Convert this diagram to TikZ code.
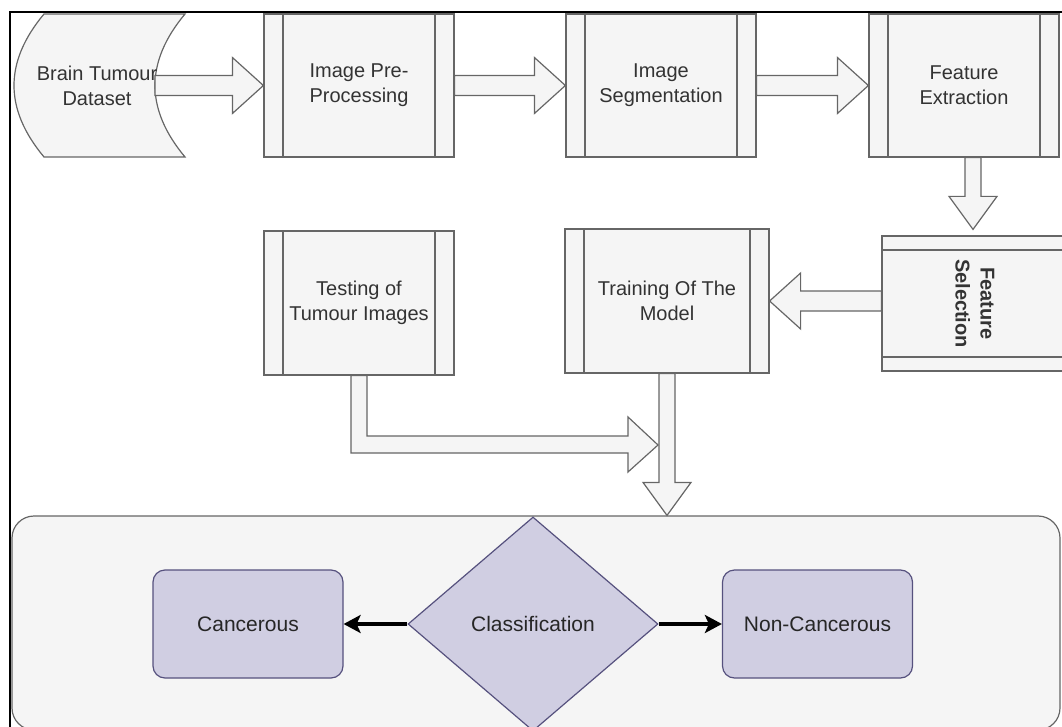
\documentclass[tikz,border=0pt]{standalone}
\usepackage{fontspec}
\setmainfont{Liberation Sans}
\usepackage{tikz}
\usetikzlibrary{calc,shapes.geometric,arrows.meta}

\definecolor{boxgrey}{HTML}{F5F5F5}
\definecolor{linegrey}{HTML}{666666}
\definecolor{textgrey}{HTML}{333333}
\definecolor{purplefill}{HTML}{D0CEE2}
\definecolor{purpleline}{HTML}{56517E}

\tikzset{
  procbox/.style={draw=linegrey, fill=boxgrey, text=textgrey, line width=1.2pt,
    minimum width=190pt, minimum height=143pt, inner sep=0pt, align=center,
    font=\fontsize{20}{25}\selectfont,
    path picture={\draw[linegrey, line width=1.2pt]
      ([xshift=19pt]path picture bounding box.north west) -- ([xshift=19pt]path picture bounding box.south west)
      ([xshift=-19pt]path picture bounding box.north east) -- ([xshift=-19pt]path picture bounding box.south east);}},
  selbox/.style={draw=linegrey, fill=boxgrey, text=textgrey, line width=1.2pt,
    minimum width=182pt, minimum height=135pt, inner sep=0pt, align=center,
    font=\fontsize{20}{25}\selectfont\bfseries,
    path picture={\draw[linegrey, line width=1.2pt]
      ([yshift=-14pt]path picture bounding box.north west) -- ([yshift=-14pt]path picture bounding box.north east)
      ([yshift=14pt]path picture bounding box.south west) -- ([yshift=14pt]path picture bounding box.south east);}},
  classbox/.style={draw=purpleline, fill=purplefill, text=black!85, line width=1.2pt,
    rounded corners=12pt, minimum width=190pt, minimum height=108pt,
    font=\fontsize{21}{25}\selectfont},
  flexarrow/.style={draw=linegrey, fill=boxgrey, line width=1.2pt},
  thickarrow/.style={draw=black, line width=3.5pt, -{Stealth[length=17pt,width=18pt,inset=4pt]}},
}

% hollow block arrows, start point #1, tip #2
\newcommand{\flexh}[2]{%
  \draw[flexarrow] let \p1=(#1), \p2=(#2), \n1={sign(\x2-\x1)} in
    (\x1,\y2+10pt) -- (\x2-\n1*31pt,\y2+10pt) -- (\x2-\n1*31pt,\y2+28pt) -- (\x2,\y2)
    -- (\x2-\n1*31pt,\y2-28pt) -- (\x2-\n1*31pt,\y2-10pt) -- (\x1,\y2-10pt) -- cycle;}
\newcommand{\flexv}[2]{%
  \draw[flexarrow] let \p1=(#1), \p2=(#2), \n1={sign(\y2-\y1)} in
    (\x2-8pt,\y1) -- (\x2-8pt,\y2-\n1*33pt) -- (\x2-24pt,\y2-\n1*33pt) -- (\x2,\y2)
    -- (\x2+24pt,\y2-\n1*33pt) -- (\x2+8pt,\y2-\n1*33pt) -- (\x2+8pt,\y1) -- cycle;}

\begin{document}
\begin{tikzpicture}[x=1pt,y=-1pt,line join=miter]
  \useasboundingbox (0,0) rectangle (1062,727);
  \clip (0,0) rectangle (1062,727);

  % bottom panel
  \node[draw=linegrey, fill=boxgrey, line width=1.2pt, rounded corners=22pt,
        minimum width=1048pt, minimum height=214pt] (panel) at (536,623) {};

  % dataset (stored data shape)
  \draw[flexarrow] (44,14) -- (185,14) .. controls (145,62) and (145,109) .. (185,157)
    -- (44,157) .. controls (4,109) and (4,62) .. (44,14) -- cycle;
  \coordinate (dataout) at (155,85.5);

  % first row
  \node[procbox] (pre) at (359,85.5) {Image Pre-\\Processing};
  \node[procbox] (seg) at (661,85.5) {Image\\Segmentation};
  \node[procbox] (ext) at (964,85.5) {Feature\\Extraction};

  % second row
  \node[selbox] (sel) at (973,303.5) {\rotatebox{-90}{\begin{tabular}{@{}c@{}}Feature\\Selection\end{tabular}}};
  \node[procbox, minimum width=204pt, minimum height=144pt] (train) at (667,301) {Training Of The\\Model};
  \node[procbox, minimum height=144pt] (test) at (359,303) {Testing of\\Tumour Images};

  % block arrows
  \flexh{dataout}{pre.west}
  \node[text=textgrey, align=center, font=\fontsize{20}{25}\selectfont] (data) at (97,85.5) {Brain Tumour\\Dataset};
  \flexh{pre.east}{seg.west}
  \flexh{seg.east}{ext.west}
  \flexv{ext.south -| sel.north}{[yshift=6pt]sel.north}
  \flexh{sel.west}{train.east}
  \flexv{train.south}{train.south |- panel.north}

  % testing -> join
  \coordinate (join) at (658,445);
  \draw[flexarrow] ([xshift=-8pt]test.south) |- ([xshift=-30pt,yshift=-8pt]join)
    -- ++(0,-19pt) -- (join) -- ([xshift=-30pt,yshift=28pt]join)
    -- ++(0,-19pt) -| ([xshift=8pt]test.south) -- cycle;

  % classification
  \node[diamond, draw=purpleline, fill=purplefill, text=black!85, line width=1.2pt,
        inner sep=0pt, minimum width=250pt, minimum height=214pt,
        font=\fontsize{21}{25}\selectfont] (cls) at (533,624) {Classification};
  \node[classbox] (canc) at (248,624) {Cancerous};
  \node[classbox] (noncanc) at (817.5,624) {Non-Cancerous};
  \draw[thickarrow] (cls.west) -- (canc.east);
  \draw[thickarrow] (cls.east) -- (noncanc.west);

  % frame
  \draw[black, line width=2pt] (10,727) -- (10,12) -- (1062,12);
\end{tikzpicture}
\end{document}
